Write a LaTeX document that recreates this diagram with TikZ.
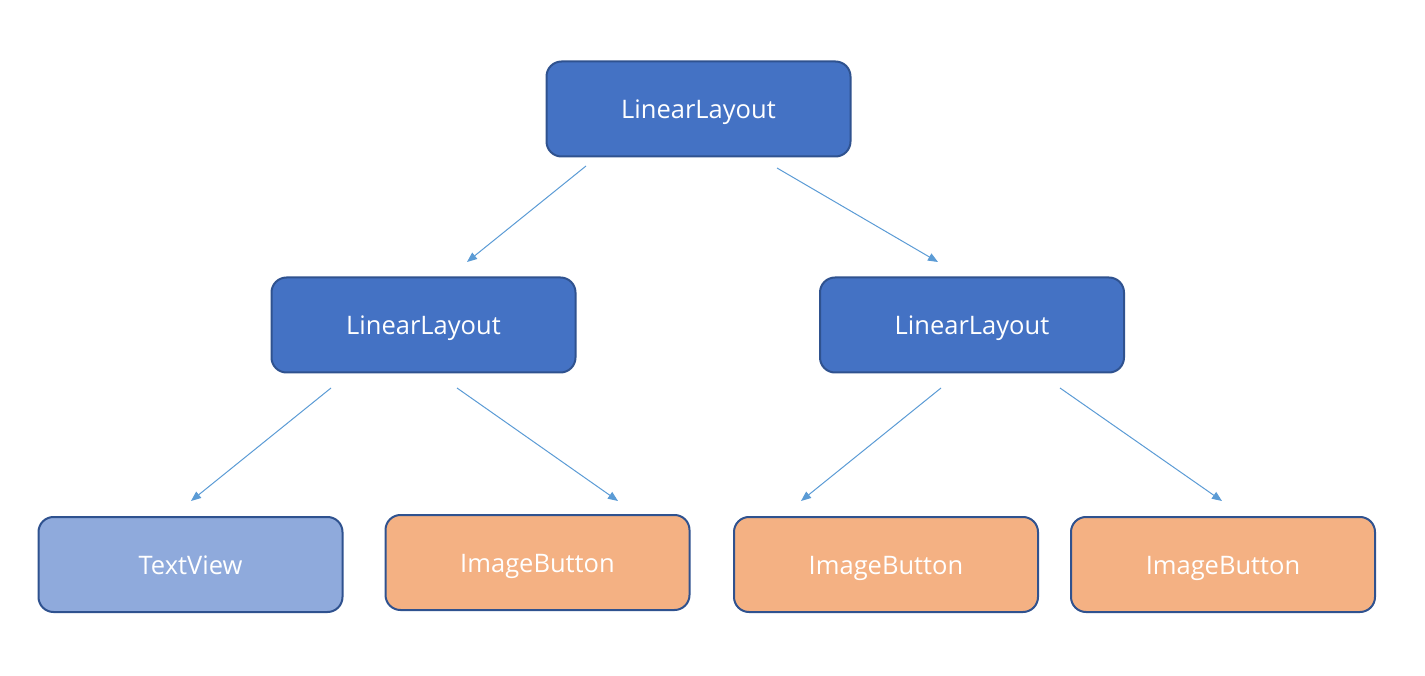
\documentclass[tikz,border=0pt]{standalone}
\usepackage{fontspec}
\setmainfont{Open Sans}
\usetikzlibrary{arrows.meta}
\definecolor{dblue}{HTML}{4472C4}
\definecolor{lblue}{HTML}{8FAADC}
\definecolor{orng}{HTML}{F4B183}
\definecolor{bord}{HTML}{2F528F}
\definecolor{arr}{HTML}{5B9BD5}
\tikzset{
  box/.style={draw=bord, line width=2pt, rounded corners=15pt, minimum width=304pt, minimum height=95pt, text=white, font=\fontsize{25.5}{30}\selectfont, inner sep=0pt, text height=26pt, text depth=6pt},
  darkbox/.style={box, fill=dblue},
  lightbox/.style={box, fill=lblue},
  orangebox/.style={box, fill=orng},
  conn/.style={draw=arr, line width=1pt, -{Triangle[length=10pt,width=8pt]}}
}
\begin{document}
\begin{tikzpicture}[x=1pt,y=-1pt]
\useasboundingbox (0,0) rectangle (1425,676);
\node[darkbox] (top) at (698.5,109) {LinearLayout};
\node[darkbox] (ml) at (423.5,325) {LinearLayout};
\node[darkbox] (mr) at (972,325) {LinearLayout};
\node[lightbox] (tv) at (190.5,564.5) {TextView};
\node[orangebox] (ib1) at (537.5,562.5) {ImageButton};
\node[orangebox] (ib2) at (886,564.5) {ImageButton};
\node[orangebox] (ib3) at (1223,564.5) {ImageButton};
\coordinate (a1s) at (586,166); \coordinate (a1e) at (467,262);
\coordinate (a2s) at (777,168); \coordinate (a2e) at (938,262);
\coordinate (a3s) at (331,388); \coordinate (a3e) at (191,501);
\coordinate (a4s) at (457,388); \coordinate (a4e) at (618,501);
\coordinate (a5s) at (941,388); \coordinate (a5e) at (801,501);
\coordinate (a6s) at (1060,388); \coordinate (a6e) at (1222,501);
\draw[conn] (a1s) -- (a1e);
\draw[conn] (a2s) -- (a2e);
\draw[conn] (a3s) -- (a3e);
\draw[conn] (a4s) -- (a4e);
\draw[conn] (a5s) -- (a5e);
\draw[conn] (a6s) -- (a6e);
\end{tikzpicture}
\end{document}
